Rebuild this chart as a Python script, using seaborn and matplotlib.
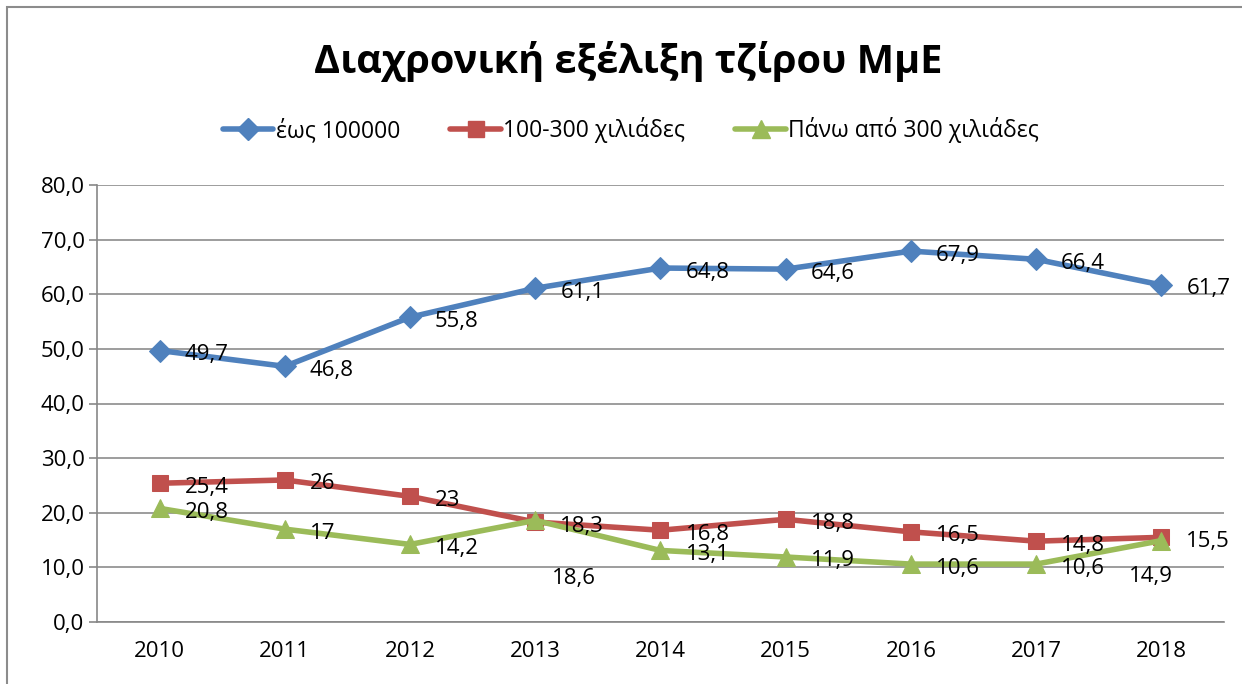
import numpy as np
import pandas as pd
import matplotlib
matplotlib.use("Agg")
import matplotlib.pyplot as plt
import matplotlib.patches as mpatches
from matplotlib.lines import Line2D
import seaborn as sns

# ---- data ----
years = [2010, 2011, 2012, 2013, 2014, 2015, 2016, 2017, 2018]
series_names = ["έως 100000", "100-300 χιλιάδες", "Πάνω από 300 χιλιάδες"]
upto_100k = [49.7, 46.8, 55.8, 61.1, 64.8, 64.6, 67.9, 66.4, 61.7]
k100_300 = [25.4, 26, 23, 18.3, 16.8, 18.8, 16.5, 14.8, 15.5]
over_300k = [20.8, 17, 14.2, 18.6, 13.1, 11.9, 10.6, 10.6, 14.9]
title = "Διαχρονική εξέλιξη τζίρου ΜμΕ"

df = pd.DataFrame({
    "year": years * 3,
    "value": upto_100k + k100_300 + over_300k,
    "series": [series_names[0]] * 9 + [series_names[1]] * 9 + [series_names[2]] * 9,
})

colors = ["#4F81BD", "#C0504D", "#9BBB59"]
markers = ["D", "s", "^"]
msizes = [11, 12, 13]

sns.set_theme(style="white")
plt.rcParams["font.family"] = ["Open Sans", "DejaVu Sans"]
plt.rcParams["text.color"] = "black"
plt.rcParams["xtick.color"] = "black"
plt.rcParams["ytick.color"] = "black"

fig = plt.figure(figsize=(12.42, 6.84), dpi=100)
ax = fig.add_axes([97 / 1242, 1 - 622 / 684, (1224 - 97) / 1242, (622 - 185) / 684])

for name, col, mk, ms in zip(series_names, colors, markers, msizes):
    sub = df[df["series"] == name]
    sns.lineplot(data=sub, x="year", y="value", ax=ax, color=col, lw=4,
                 marker=mk, markersize=ms, markeredgecolor=col, legend=False)

# data labels (offsets in pixels; a few were moved by hand in the original)
override = {(2, 2013): (17, -58), (2, 2018): (-32, -36)}
for i, vals in enumerate([upto_100k, k100_300, over_300k]):
    for yr, v in zip(years, vals):
        dx, dy = override.get((i, yr), (25, -4))
        ax.annotate(f"{v:g}".replace(".", ","), (yr, v),
                    xytext=(dx * 0.72, dy * 0.72), textcoords="offset points",
                    ha="left", va="center", fontsize=16, color="black")

ax.set_xlim(2009.5, 2018.5)
ax.set_ylim(0, 80)
ax.set_yticks(np.arange(0, 81, 10))
ax.set_yticklabels([f"{t:.1f}".replace(".", ",") for t in np.arange(0, 81, 10)], fontsize=16)
ax.set_xticks(years)
ax.set_xticklabels([str(y) for y in years], fontsize=16)
ax.set_xticks(np.arange(2009.5, 2018.6, 1), minor=True)
ax.tick_params(axis="x", which="major", length=0, pad=14)
ax.tick_params(axis="x", which="minor", length=6, color="#888888", width=1.2, direction="out")
ax.tick_params(axis="y", length=6, color="#888888", width=1.2, direction="out", pad=3, left=True)
ax.set_xlabel("")
ax.set_ylabel("")
ax.grid(axis="y", color="#8c8c8c", lw=1.2)
ax.set_axisbelow(True)
for s in ["top", "right"]:
    ax.spines[s].set_visible(False)
for s in ["left", "bottom"]:
    ax.spines[s].set_color("#888888")
    ax.spines[s].set_linewidth(1.2)

fig.text(0.506, 1 - 62 / 684, title, ha="center", va="center",
         fontsize=28.5, fontweight="bold")

handles = [Line2D([], [], color=c, lw=4, marker=m, markersize=ms, markeredgecolor=c)
           for c, m, ms in zip(colors, markers, msizes)]
fig.legend(handles, series_names, loc="center", bbox_to_anchor=(0.508, 1 - 130 / 684),
           ncol=3, frameon=False, fontsize=16.5, handlelength=2.2, handletextpad=0.1,
           columnspacing=2.2)

fig.patches.append(mpatches.Rectangle((7 / 1242, -0.02), 1.1, 1.02 - 7 / 684,
                                      transform=fig.transFigure, fill=False,
                                      edgecolor="#8c8c8c", lw=1.5))

fig.savefig("out.png", dpi=100)
